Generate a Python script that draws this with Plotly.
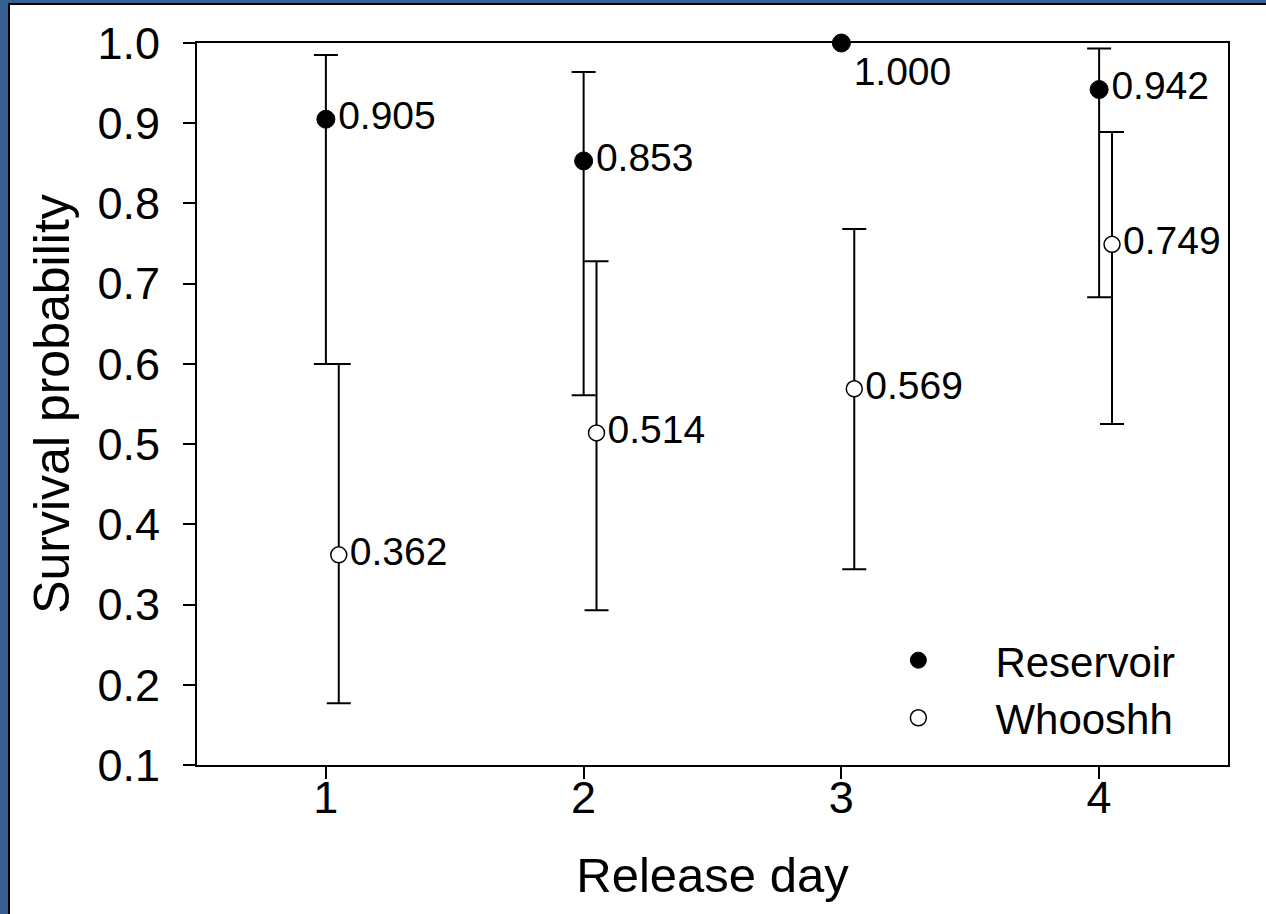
import plotly.graph_objects as go

days = [1, 2, 3, 4]
whooshh_offset = 0.05

reservoir = [0.905, 0.853, 1.000, 0.942]
reservoir_hi = [0.985, 0.964, None, 0.993]
reservoir_lo = [0.600, 0.561, None, 0.683]

whooshh = [0.362, 0.514, 0.569, 0.749]
whooshh_hi = [0.600, 0.728, 0.768, 0.889]
whooshh_lo = [0.177, 0.293, 0.344, 0.525]

y_ticks = [0.1, 0.2, 0.3, 0.4, 0.5, 0.6, 0.7, 0.8, 0.9, 1.0]

FONT = "Liberation Sans, Arial, sans-serif"

def err(vals, hi, lo):
    plus = [(h - v) if h is not None else 0 for v, h in zip(vals, hi)]
    minus = [(v - l) if l is not None else 0 for v, l in zip(vals, lo)]
    vis = [h is not None for h in hi]
    return plus, minus, vis

rp, rm, rv = err(reservoir, reservoir_hi, reservoir_lo)
wp, wm, wv = err(whooshh, whooshh_hi, whooshh_lo)

fig = go.Figure()

fig.add_trace(go.Scatter(
    x=[d for d, v in zip(days, rv) if v],
    y=[r for r, v in zip(reservoir, rv) if v],
    mode="markers", marker=dict(size=1, color="rgba(0,0,0,0)"),
    error_y=dict(type="data", symmetric=False,
                 array=[p for p, v in zip(rp, rv) if v],
                 arrayminus=[m for m, v in zip(rm, rv) if v],
                 color="black", thickness=2, width=12),
    showlegend=False, hoverinfo="skip"))

wx = [d + whooshh_offset for d in days]
fig.add_trace(go.Scatter(
    x=wx, y=whooshh, mode="markers", marker=dict(size=1, color="rgba(0,0,0,0)"),
    error_y=dict(type="data", symmetric=False, array=wp, arrayminus=wm,
                 color="black", thickness=2, width=12),
    showlegend=False, hoverinfo="skip"))

res_pos = ["middle right", "middle right", "bottom right", "middle right"]
fig.add_trace(go.Scatter(
    x=days, y=reservoir, mode="markers+text", name="Reservoir", legendgroup="r",
    text=[f"{v:.3f}" for v in reservoir], textposition=res_pos,
    textfont=dict(family=FONT, size=39, color="black"),
    marker=dict(size=18, color="black", line=dict(color="black", width=1)),
    cliponaxis=False))

fig.add_trace(go.Scatter(
    x=wx, y=whooshh, mode="markers+text", name="Whooshh", legendgroup="w",
    text=[f"{v:.3f}" for v in whooshh], textposition="middle right",
    textfont=dict(family=FONT, size=39, color="black"),
    marker=dict(size=16, color="white", line=dict(color="black", width=1.5)),
    cliponaxis=False))

L, R, T, B = 197, 38, 43, 149
W, H = 1266, 914
pw, ph = W - L - R, H - T - B

# white panel with black edge inside the blue frame
fig.add_shape(type="rect", xref="paper", yref="paper", layer="below",
              x0=(9 - L) / pw, x1=(W + 20 - L) / pw,
              y0=-(B + 20) / ph, y1=(ph + T - 4) / ph,
              fillcolor="white", line=dict(color="black", width=2))

fig.update_layout(
    width=W, height=H,
    margin=dict(l=L, r=R, t=T, b=B),
    paper_bgcolor="#365f93", plot_bgcolor="white",
    font=dict(family=FONT, color="black"),
    showlegend=True,
    legend=dict(x=0.625, y=0.192, xanchor="left", yanchor="top",
                bgcolor="rgba(0,0,0,0)", font=dict(family=FONT, size=42),
                itemwidth=144, tracegroupgap=0),
    xaxis=dict(range=[0.5, 4.5], tickvals=days, ticktext=[str(d) for d in days],
               showline=True, linecolor="black", linewidth=2, mirror=True,
               ticks="outside", ticklen=12, tickwidth=2, tickcolor="black",
               ticklabelstandoff=-20,
               tickfont=dict(family=FONT, size=45), showgrid=False, zeroline=False,
               title=dict(text="Release day", font=dict(family=FONT, size=49), standoff=36)),
    yaxis=dict(range=[0.1, 1.0], tickvals=y_ticks, ticktext=[f"{v:.1f}" for v in y_ticks],
               showline=True, linecolor="black", linewidth=2, mirror=True,
               ticks="outside", ticklen=12, tickwidth=2, tickcolor="black",
               ticklabelstandoff=14,
               tickfont=dict(family=FONT, size=45), showgrid=False, zeroline=False,
               title=dict(text="Survival probability", font=dict(family=FONT, size=50), standoff=12)),
)

fig.write_html("out.html", config={"displayModeBar": False},
               post_script="document.body.style.margin='0';document.body.style.background='#365f93';")
